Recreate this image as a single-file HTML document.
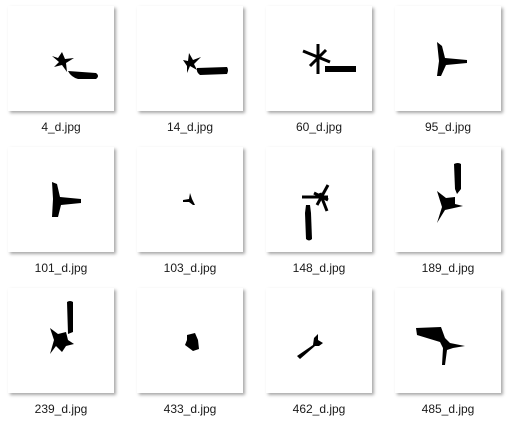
<!DOCTYPE html>
<html><head><meta charset="utf-8">
<style>
html,body{margin:0;padding:0;background:#fff;}
body{width:509px;height:427px;position:relative;overflow:hidden;font-family:"Liberation Sans","Noto Sans CJK SC",sans-serif;}
.card{position:absolute;width:106px;height:105px;background:#fff;box-shadow:2px 2px 3px rgba(0,0,0,0.35);}
.card svg{position:absolute;left:0;top:0;}
.lbl{position:absolute;width:130px;text-align:center;font-size:12px;color:#1a1a1a;}
</style></head>
<body>

<div class="card" style="left:8px;top:6px">
<svg width="106" height="105" viewBox="0 0 106 105"><g fill="#000">
<polygon points="44,50 50,52 54,46 57,53 66,52 58,57 59,66 54,59 46,61 51,56"/>
<path d="M60,65 L88,67 Q92,70 88,73 L70,73 Q63,71 60,65Z"/></g></svg></div>
<div class="lbl" style="left:-4px;top:120px">4_d.jpg</div>

<div class="card" style="left:137px;top:6px">
<svg width="106" height="105" viewBox="0 0 106 105"><g fill="#000">
<polygon points="46,54 51,55 52,47 56,54 64,51 57,58 60,64 53,60 50,67 50,60"/>
<path d="M60,62 L90,61 Q92,64 90,68 L63,69 Q59,66 60,62Z"/></g></svg></div>
<div class="lbl" style="left:125px;top:120px">14_d.jpg</div>

<div class="card" style="left:266px;top:6px">
<svg width="106" height="105" viewBox="0 0 106 105"><g fill="#000" stroke="#000">
<line x1="37" y1="45" x2="64" y2="56" stroke-width="3"/>
<line x1="52" y1="38" x2="52" y2="68" stroke-width="3"/>
<line x1="44" y1="60" x2="60" y2="44" stroke-width="3"/>
<rect x="59" y="60" width="31" height="6" stroke="none"/></g></svg></div>
<div class="lbl" style="left:254px;top:120px">60_d.jpg</div>

<div class="card" style="left:395px;top:6px">
<svg width="106" height="105" viewBox="0 0 106 105"><g fill="#000">
<polygon points="42,36 47,40 50,52 72,54 72,57 51,59 46,70 42,70 44,55"/></g></svg></div>
<div class="lbl" style="left:383px;top:120px">95_d.jpg</div>

<div class="card" style="left:8px;top:147px">
<svg width="106" height="105" viewBox="0 0 106 105"><g fill="#000">
<polygon points="44,35 49,37 52,50 73,52 73,56 53,58 50,70 44,70 45,52"/></g></svg></div>
<div class="lbl" style="left:-4px;top:261px">101_d.jpg</div>

<div class="card" style="left:137px;top:147px">
<svg width="106" height="105" viewBox="0 0 106 105"><g fill="#000">
<polygon points="46,53 52,52 53,46 55,52 58,58 56,58 52,55 46,55"/></g></svg></div>
<div class="lbl" style="left:125px;top:261px">103_d.jpg</div>

<div class="card" style="left:266px;top:147px">
<svg width="106" height="105" viewBox="0 0 106 105"><g fill="#000" stroke="#000">
<line x1="36" y1="50" x2="62" y2="50" stroke-width="3"/>
<line x1="51" y1="58" x2="62" y2="38" stroke-width="3"/>
<line x1="54" y1="46" x2="61" y2="64" stroke-width="3"/>
<line x1="48" y1="46" x2="62" y2="53" stroke-width="3"/>
<path d="M40,58 L44,58 L45,66 L46,92 Q43,95 40,92 L39,66Z" stroke="none"/></g></svg></div>
<div class="lbl" style="left:254px;top:261px">148_d.jpg</div>

<div class="card" style="left:395px;top:147px">
<svg width="106" height="105" viewBox="0 0 106 105"><g fill="#000">
<path d="M59,17 Q63,15 66,17 L66,42 L62,47 L60,42Z"/>
<polygon points="42,44 51,51 60,50 60,57 68,59 59,61 50,63 42,76 47,60"/></g></svg></div>
<div class="lbl" style="left:383px;top:261px">189_d.jpg</div>

<div class="card" style="left:8px;top:288px">
<svg width="106" height="105" viewBox="0 0 106 105"><g fill="#000">
<path d="M59,14 Q62,12 65,14 L65,44 L60,46Z"/>
<polygon points="42,40 50,46 58,44 60,52 66,56 58,58 54,64 48,58 42,66 46,52"/></g></svg></div>
<div class="lbl" style="left:-4px;top:402px">239_d.jpg</div>

<div class="card" style="left:137px;top:288px">
<svg width="106" height="105" viewBox="0 0 106 105"><g fill="#000">
<polygon points="50,47 58,45 61,52 62,61 56,63 48,57 50,52"/></g></svg></div>
<div class="lbl" style="left:125px;top:402px">433_d.jpg</div>

<div class="card" style="left:266px;top:288px">
<svg width="106" height="105" viewBox="0 0 106 105"><g fill="#000">
<polygon points="31,68 47,57 48,50 52,46 52,52 57,55 53,58 49,58 34,71"/></g></svg></div>
<div class="lbl" style="left:254px;top:402px">462_d.jpg</div>

<div class="card" style="left:395px;top:288px">
<svg width="106" height="105" viewBox="0 0 106 105"><g fill="#000">
<polygon points="21,40 46,39 50,50 55,55 70,58 58,60 52,62 50,77 47,77 48,60 45,54 22,47"/></g></svg></div>
<div class="lbl" style="left:383px;top:402px">485_d.jpg</div>

</body></html>
